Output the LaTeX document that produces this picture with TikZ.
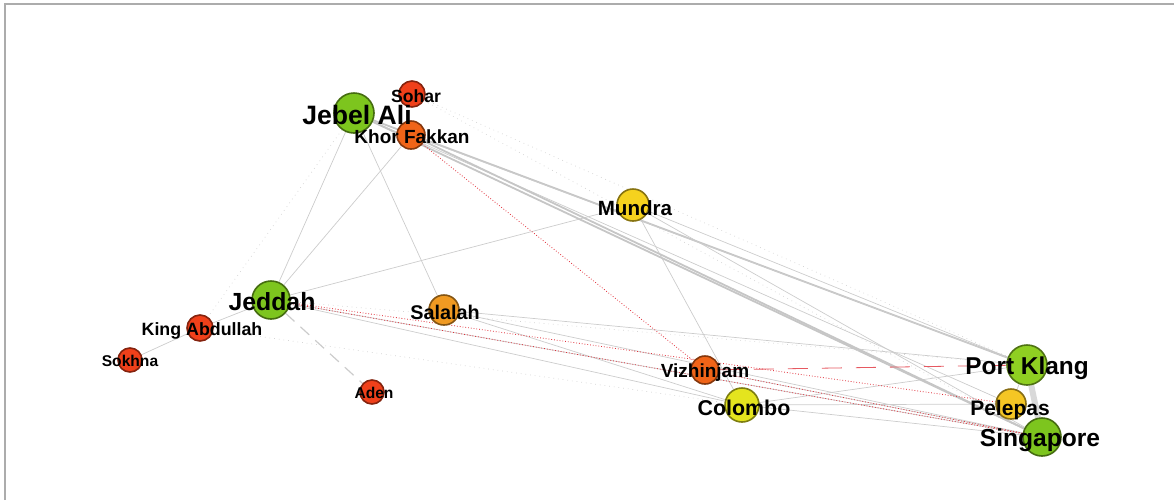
\documentclass[tikz,border=0pt]{standalone}
\usepackage{fontspec}
\setmainfont{Liberation Sans}
\usepackage{xcolor}
\usepackage{tikz}
\usetikzlibrary{backgrounds}
\definecolor{hubgreen}{HTML}{7DC51E}
\definecolor{limegreen}{HTML}{8FCF22}
\definecolor{portred}{HTML}{F0401A}
\definecolor{portorange}{HTML}{F06418}
\definecolor{portamber}{HTML}{F09A22}
\definecolor{portyellow}{HTML}{F5D21E}
\definecolor{portgold}{HTML}{F5C624}
\definecolor{portlime}{HTML}{E4E41E}
\definecolor{linkred}{HTML}{E0303A}

\begin{document}
\begin{tikzpicture}[x=0.5pt,y=-0.5pt,
  port/.style={circle,draw=#1!55!black,fill=#1,line width=0.8pt,inner sep=0pt},
  lbl/.style={font=\fontsize{#1}{#1}\selectfont\bfseries,text=black,inner sep=0pt},
  link/.style={draw=gray!40,line width=0.35pt},
  heavy/.style={draw=gray!45,line width=0.9pt},
  faint/.style={draw=gray!35,line width=0.35pt,dotted},
  redlink/.style={draw=linkred,line width=0.4pt,densely dotted}]
  \useasboundingbox (0,0) rectangle (1174,500);
  \draw[gray!65,line width=1pt] (5,500)--(5,4)--(1174,4);

  % ports
  \node[port=hubgreen,minimum size=20pt] (jebelali) at (354,113) {};
  \node[port=portred,minimum size=13pt] (sohar) at (412,94) {};
  \node[port=portorange,minimum size=14pt] (khorfakkan) at (411,135) {};
  \node[port=portyellow,minimum size=16pt] (mundra) at (633,205) {};
  \node[port=hubgreen,minimum size=19pt] (jeddah) at (271,300) {};
  \node[port=portred,minimum size=13pt] (kingabdullah) at (200,328) {};
  \node[port=portred,minimum size=12pt] (sokhna) at (130,360) {};
  \node[port=portred,minimum size=12pt] (aden) at (372,392) {};
  \node[port=portamber,minimum size=15pt] (salalah) at (444,310) {};
  \node[port=portorange,minimum size=14pt] (vizhinjam) at (705,370) {};
  \node[port=portlime,minimum size=17pt] (colombo) at (742,405) {};
  \node[port=limegreen,minimum size=20pt] (portklang) at (1027,365) {};
  \node[port=portgold,minimum size=15pt] (pelepas) at (1011,404) {};
  \node[port=hubgreen,minimum size=19pt] (singapore) at (1042,437) {};

  % links
  \begin{pgfonlayer}{background}
    \draw[link] (jebelali)--(jeddah);
    \draw[link] (khorfakkan)--(jeddah);
    \draw[link] (jebelali)--(salalah);
    \draw[link] (jeddah)--(kingabdullah);
    \draw[link] (kingabdullah)--(sokhna);
    \draw[link] (jeddah)--(mundra);
    \draw[link] (mundra)--(colombo);
    \draw[link] (colombo)--(portklang);
    \draw[link] (jeddah)--(colombo);
    \draw[link] (jeddah)--(singapore);
    \draw[link] (salalah)--(portklang);
    \draw[link] (salalah)--(singapore);
    \draw[link] (salalah)--(colombo);
    \draw[link] (colombo)--(singapore);
    \draw[link] (colombo)--(pelepas);
    \draw[link] (vizhinjam)--(singapore);
    \draw[link] (jebelali)--(pelepas);
    \draw[link] (mundra)--(portklang);
    \draw[link] (portklang)--(pelepas);
    \draw[heavy] (jebelali)--(singapore);
    \draw[heavy] (khorfakkan)--(singapore);
    \draw[heavy] (jebelali)--(portklang);
    \draw[link] (khorfakkan)--(portklang);
    \draw[link] (mundra)--(singapore);
    \draw[draw=gray!30,line width=3pt] (portklang)--(singapore);
    \draw[faint] (jebelali)--(kingabdullah);
    \draw[faint] (sohar)--(portklang);
    \draw[faint] (sohar)--(singapore);
    \draw[faint] (kingabdullah)--(colombo);
    \draw[faint] (jeddah)--(portklang);
    \draw[draw=gray!40,line width=0.6pt,dash pattern=on 6pt off 4pt] (jeddah)--(aden);
    \draw[redlink] (khorfakkan)--(vizhinjam);
    \draw[redlink] (jeddah)--(singapore);
    \draw[redlink] (jeddah)--(pelepas);
    \draw[redlink] (vizhinjam)--(singapore);
    \draw[draw=linkred!80,line width=0.4pt,dash pattern=on 10pt off 7pt] (vizhinjam)--(portklang);
  \end{pgfonlayer}

  % names
  \node[lbl=13.3] (jebelalitxt) at (357,115) {Jebel Ali};
  \node[lbl=8.8] (sohartxt) at (416,96) {Sohar};
  \node[lbl=9.5] (khorfakkantxt) at (412,137) {Khor Fakkan};
  \node[lbl=10.3] (mundratxt) at (635,208) {Mundra};
  \node[lbl=12.4] (jeddahtxt) at (272,302) {Jeddah};
  \node[lbl=8.9] (kingabdullahtxt) at (202,331) {King Abdullah};
  \node[lbl=7.8] (sokhnatxt) at (130,361) {Sokhna};
  \node[lbl=7.8] (adentxt) at (374,393) {Aden};
  \node[lbl=9.9] (salalahtxt) at (445,312) {Salalah};
  \node[lbl=9.5] (vizhinjamtxt) at (705,373) {Vizhinjam};
  \node[lbl=10.7] (colombotxt) at (744,408) {Colombo};
  \node[lbl=12.2] (portklangtxt) at (1027,368) {Port Klang};
  \node[lbl=10.5] (pelepastxt) at (1010,410) {Pelepas};
  \node[lbl=12.3] (singaporetxt) at (1040,440) {Singapore};
\end{tikzpicture}
\end{document}
